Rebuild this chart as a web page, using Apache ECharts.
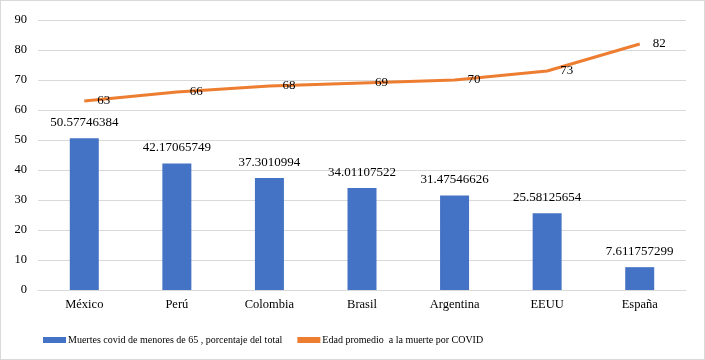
<!DOCTYPE html>
<html>
<head>
<meta charset="utf-8">
<script src="https://cdn.jsdelivr.net/npm/echarts@6/dist/echarts.min.js"></script>
<style>
  html, body { margin: 0; padding: 0; background: #fff; }
  #chart { width: 705px; height: 360px; box-sizing: border-box; border: 1px solid #d9d9d9; }
</style>
</head>
<body>
<div id="chart"></div>
<script>
const countries = ["México", "Perú", "Colombia", "Brasil", "Argentina", "EEUU", "España"];
const youngDeathsPct = [50.57746384, 42.17065749, 37.3010994, 34.01107522, 31.47546626, 25.58125654, 7.611757299];
const avgDeathAge = [63, 66, 68, 69, 70, 73, 82];

const serif = "'Liberation Serif', 'Times New Roman', serif";
const chart = echarts.init(document.getElementById("chart"));

chart.setOption({
  animation: false,
  textStyle: { fontFamily: serif },
  grid: { left: 37, right: 18, top: 19, bottom: 69, containLabel: false },
  legend: {
    bottom: 14,
    left: 42,
    padding: 0,
    itemGap: 15,
    itemWidth: 23,
    itemHeight: 6,
    textStyle: { fontFamily: serif, fontSize: 10, color: "#000", padding: [0, 0, 0, -3] },
    data: [
      { name: "Muertes covid de menores de 65 , porcentaje del total", icon: "rect", itemStyle: { color: "#4472C4" } },
      { name: "Edad promedio  a la muerte por COVID", icon: "rect", itemStyle: { color: "#ED7D31" } }
    ]
  },
  xAxis: {
    type: "category",
    data: countries,
    axisLine: { lineStyle: { color: "#d9d9d9" } },
    axisTick: { show: false },
    axisLabel: { color: "#000", fontFamily: serif, fontSize: 12.5, margin: 8 }
  },
  yAxis: {
    type: "value",
    min: 0,
    max: 90,
    interval: 10,
    axisLine: { show: false },
    axisTick: { show: false },
    axisLabel: { color: "#000", fontFamily: serif, fontSize: 12.5, margin: 11 },
    splitLine: { lineStyle: { color: "#d9d9d9" } }
  },
  series: [
    {
      name: "Muertes covid de menores de 65 , porcentaje del total",
      type: "bar",
      data: youngDeathsPct,
      barWidth: 29,
      itemStyle: { color: "#4472C4" },
      label: {
        show: true,
        position: "top",
        distance: 9,
        color: "#000",
        fontFamily: serif,
        fontSize: 13,
        formatter: (p) => String(p.value)
      }
    },
    {
      name: "Edad promedio  a la muerte por COVID",
      type: "line",
      data: avgDeathAge,
      symbol: "circle",
      symbolSize: 2,
      showSymbol: true,
      lineStyle: { color: "#ED7D31", width: 3 },
      itemStyle: { color: "rgba(237,125,49,0)", borderWidth: 0 },
      label: {
        show: true,
        position: "right",
        distance: 12,
        color: "#000",
        fontFamily: serif,
        fontSize: 13
      }
    }
  ]
});
</script>
</body>
</html>
